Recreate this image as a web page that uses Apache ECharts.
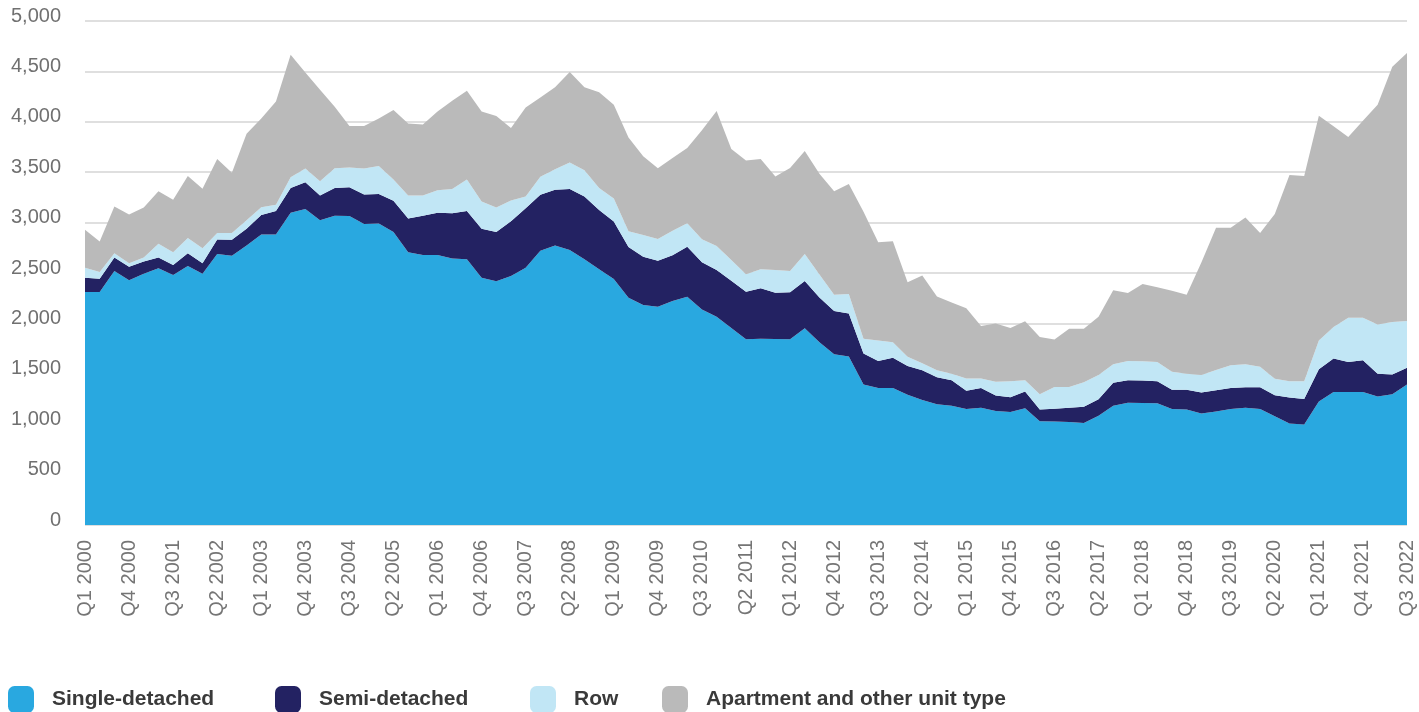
<!DOCTYPE html>
<html>
<head>
<meta charset="utf-8">
<script src="https://cdn.jsdelivr.net/npm/echarts@6/dist/echarts.min.js"></script>
<style>
html,body{margin:0;padding:0;background:#fff;}
#chart{width:1419px;height:712px;}
</style>
</head>
<body>
<div id="chart"></div>
<script>
// Quarterly categories Q1 2000 .. Q3 2022
const categories = [];
for (let y = 2000; y <= 2022; y++) {
  for (let q = 1; q <= 4; q++) {
    if (y === 2022 && q > 3) break;
    categories.push('Q' + q + ' ' + y);
  }
}

const singleDetached = [
  2311,2311,2520,2429,2493,2547,2479,2570,2493,2688,
  2671,2772,2883,2883,3098,3135,3024,3068,3065,2985,
  2991,2906,2705,2678,2678,2644,2637,2452,2419,2469,
  2553,2721,2772,2728,2637,2536,2440,2255,2182,2166,
  2222,2265,2139,2067,1954,1842,1848,1845,1842,1951,
  1813,1695,1672,1393,1359,1359,1292,1241,1198,1184,
  1150,1164,1130,1120,1157,1029,1026,1023,1013,1083,
  1184,1214,1211,1208,1150,1147,1107,1127,1150,1164,
  1150,1080,1006,996,1224,1319,1319,1319,1275,1298,
  1393
];
const semiDetached = [
  141,131,134,134,121,107,101,125,104,144,
  158,168,192,232,246,266,246,276,285,295,
  292,310,336,390,420,448,478,488,487,545,
  589,556,555,606,623,589,570,503,480,456,
  453,496,467,463,470,473,500,460,466,470,
  444,428,427,309,269,301,286,293,269,252,
  182,195,155,148,168,118,128,141,161,165,
  226,222,222,218,192,195,208,209,209,202,
  216,208,259,255,320,333,299,316,225,196,
  168
];
const row = [
  101,68,41,34,40,135,125,151,148,64,
  67,84,77,61,107,135,141,195,196,256,
  279,212,229,202,222,242,313,269,243,205,
  118,178,202,262,259,219,230,157,215,215,
  245,232,228,238,205,172,188,225,212,267,
  229,161,192,145,202,152,91,71,67,64,
  121,94,135,158,111,151,215,205,242,239,
  185,192,192,192,179,158,172,201,225,228,
  205,162,161,175,286,313,437,420,488,521,
  464
];
const apartment = [
  377,302,464,484,495,521,521,616,592,734,
  599,858,881,1026,1215,952,908,611,413,423,
  471,690,713,703,781,874,881,892,908,720,
  881,787,814,898,824,948,928,930,780,702,
  720,748,1082,1339,1101,1130,1094,928,1022,1022,
  999,1026,1093,1261,976,1002,740,871,733,707,
  697,522,578,528,586,566,471,579,532,578,
  733,673,767,740,804,784,1117,1413,1366,1457,
  1325,1635,2046,2036,2230,1991,1793,1955,2180,2530,
  2658
];

const seriesNames = ['Single-detached', 'Semi-detached', 'Row', 'Apartment and other unit type'];
const seriesColors = ['#29a8e0', '#232262', '#c1e6f5', '#bababa'];
const seriesData = [singleDetached, semiDetached, row, apartment];
const legendLeft = [3, 270, 525, 657];

const chart = echarts.init(document.getElementById('chart'), null, {renderer: 'canvas'});

const option = {
  animation: false,
  backgroundColor: '#ffffff',
  grid: {left: 85, right: 12, top: 21, bottom: 187, containLabel: false},
  legend: seriesNames.map((n, i) => ({
    data: [n],
    left: legendLeft[i],
    top: 681,
    icon: 'roundRect',
    itemWidth: 26,
    itemHeight: 27,
    selectedMode: false,
    textStyle: {
      fontFamily: "'Liberation Sans Narrow', 'Liberation Sans', Arial, sans-serif",
      fontWeight: 'bold',
      fontSize: 21,
      color: '#3a3a3a',
      padding: [0, 0, 0, 13]
    }
  })),
  xAxis: {
    type: 'category',
    data: categories,
    boundaryGap: false,
    axisLine: {show: false},
    axisTick: {show: false},
    splitLine: {show: false},
    axisLabel: {
      interval: 2,
      rotate: 90,
      margin: 15,
      fontFamily: "'Liberation Sans', Arial, sans-serif",
      fontSize: 20,
      color: '#757575'
    }
  },
  yAxis: {
    type: 'value',
    min: 0,
    max: 5000,
    interval: 500,
    axisLine: {show: false},
    axisTick: {show: false},
    splitLine: {show: true, lineStyle: {color: '#d4d4d4', width: 1.5}},
    axisLabel: {
      margin: 24,
      fontFamily: "'Liberation Sans', Arial, sans-serif",
      fontSize: 20,
      color: '#707070',
      verticalAlign: 'bottom',
      lineHeight: 10,
      formatter: v => v.toLocaleString('en-US')
    }
  },
  series: seriesNames.map((n, i) => ({
    name: n,
    type: 'line',
    stack: 'total',
    data: seriesData[i],
    symbol: 'none',
    lineStyle: {width: 0},
    itemStyle: {color: seriesColors[i]},
    areaStyle: {color: seriesColors[i], opacity: 1},
    emphasis: {disabled: true}
  }))
};
chart.setOption(option);
</script>
</body>
</html>
